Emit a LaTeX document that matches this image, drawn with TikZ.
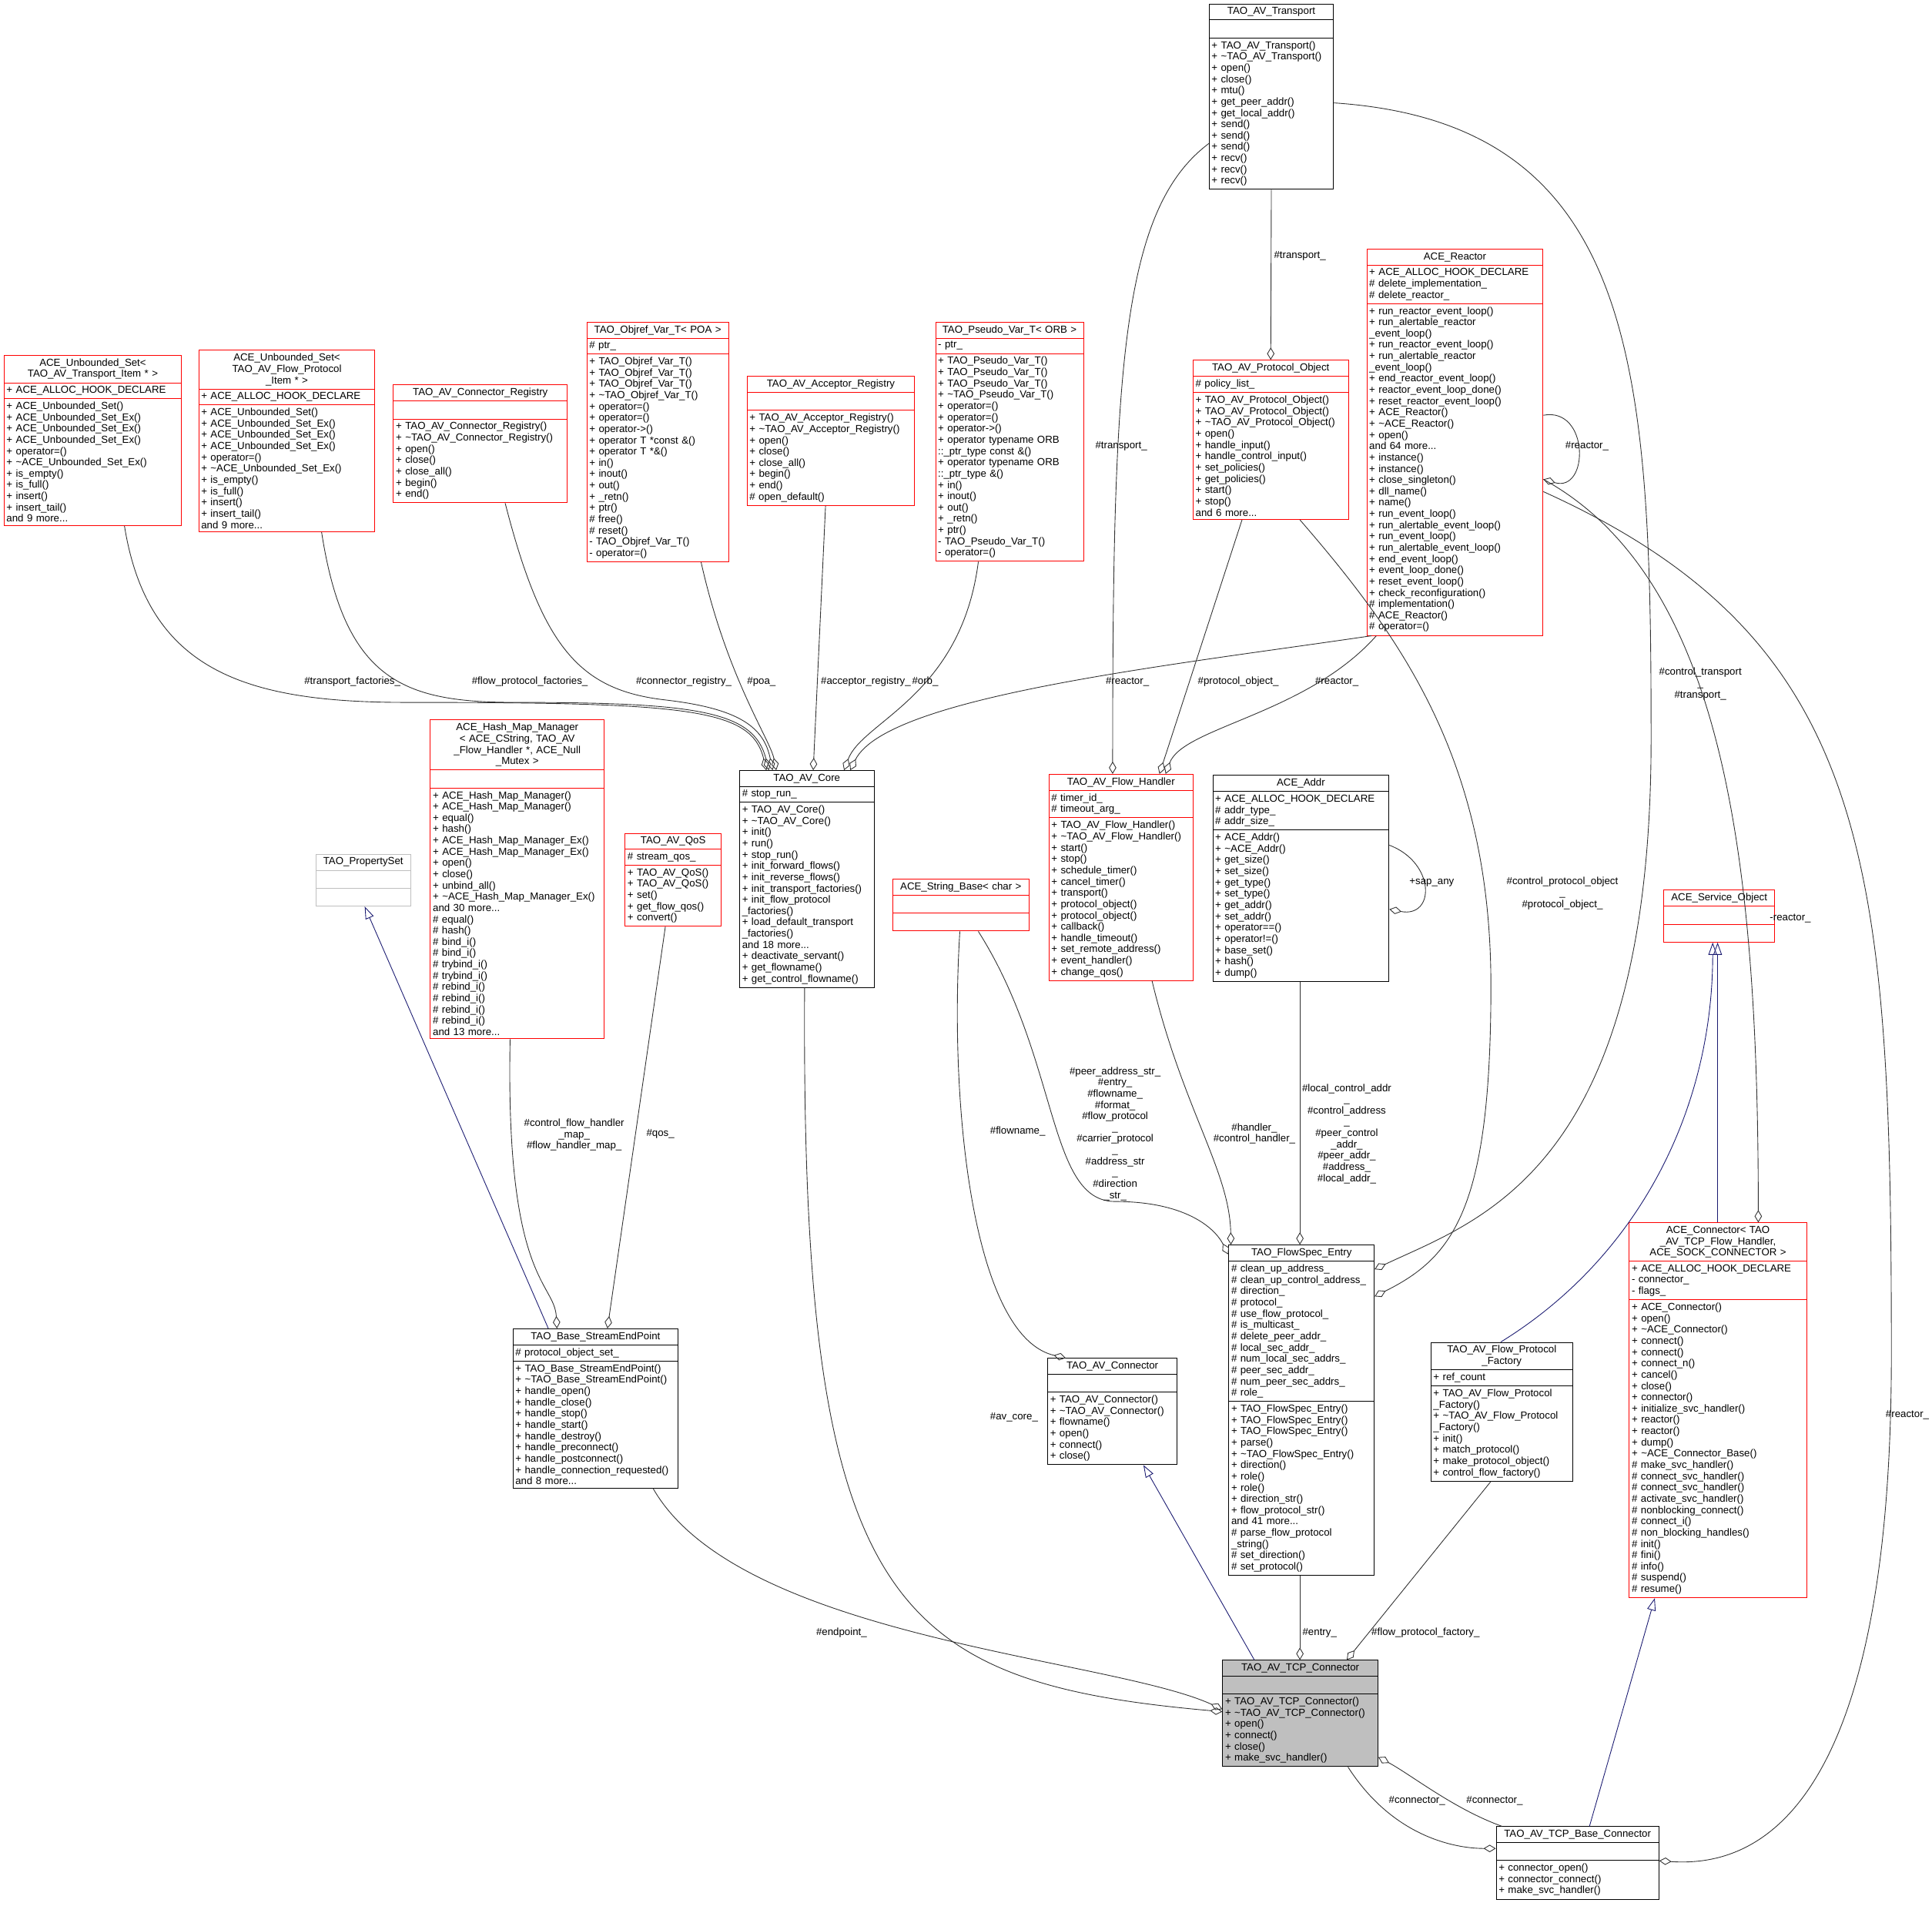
\documentclass[tikz,border=0pt]{standalone}
\usepackage{fontspec}
\setmainfont{Liberation Sans}
\usepackage{tikz}
\usetikzlibrary{arrows.meta,shapes.multipart}

\definecolor{agggray}{HTML}{303030}
\definecolor{inhblue}{HTML}{191970}
\definecolor{boxred}{HTML}{FF0000}
\definecolor{boxgray}{HTML}{BFBFBF}

% class box: name, position, text width, style, title, attributes, methods
\newcommand{\umlclass}[7]{%
\node[umlbox,#4,text width=#3] (#1) at #2 {\centering #5\par\nodepart{two}#6\nodepart{three}#7};}

\begin{document}
\begin{tikzpicture}
[x=1pt,y=-1pt,font=\fontsize{8.3}{9.15}\selectfont,
 umlbox/.style={rectangle split,rectangle split parts=3,draw=black,anchor=north west,
   align=left,inner xsep=2pt,inner ysep=2.4pt,line width=0.6pt},
 redbox/.style={draw=boxred},
 graybox/.style={draw=boxgray},
 mainbox/.style={fill=boxgray},
 agg/.style={draw=agggray,line width=0.55pt,-{Diamond[open,length=10pt,width=6pt]}},
 inh/.style={draw=inhblue,line width=0.55pt,-{Triangle[open,length=10pt,width=7pt]}},
 lbl/.style={align=center,inner sep=0pt,fill=none}]
\useasboundingbox (0,0) rectangle (1568,1552);

\umlclass{transport}{(981,3)}{97pt}{}{TAO\_AV\_Transport}{\strut}{+ TAO\_AV\_Transport()\\+ \textasciitilde TAO\_AV\_Transport()\\+ open()\\+ close()\\+ mtu()\\+ get\_peer\_addr()\\+ get\_local\_addr()\\+ send()\\+ send()\\+ send()\\+ recv()\\+ recv()\\+ recv()}
\umlclass{reactor}{(1109,202)}{139pt}{redbox}{ACE\_Reactor}{+ ACE\_ALLOC\_HOOK\_DECLARE\\\# delete\_implementation\_\\\# delete\_reactor\_}{+ run\_reactor\_event\_loop()\\+ run\_alertable\_reactor\\\_event\_loop()\\+ run\_reactor\_event\_loop()\\+ run\_alertable\_reactor\\\_event\_loop()\\+ end\_reactor\_event\_loop()\\+ reactor\_event\_loop\_done()\\+ reset\_reactor\_event\_loop()\\+ ACE\_Reactor()\\+ \textasciitilde ACE\_Reactor()\\+ open()\\and 64 more...\\+ instance()\\+ instance()\\+ close\_singleton()\\+ dll\_name()\\+ name()\\+ run\_event\_loop()\\+ run\_alertable\_event\_loop()\\+ run\_event\_loop()\\+ run\_alertable\_event\_loop()\\+ end\_event\_loop()\\+ event\_loop\_done()\\+ reset\_event\_loop()\\+ check\_reconfiguration()\\\# implementation()\\\# ACE\_Reactor()\\\# operator=()}
\umlclass{protobj}{(968,292)}{122pt}{redbox}{TAO\_AV\_Protocol\_Object}{\# policy\_list\_}{+ TAO\_AV\_Protocol\_Object()\\+ TAO\_AV\_Protocol\_Object()\\+ \textasciitilde TAO\_AV\_Protocol\_Object()\\+ open()\\+ handle\_input()\\+ handle\_control\_input()\\+ set\_policies()\\+ get\_policies()\\+ start()\\+ stop()\\and 6 more...}
\umlclass{usettrans}{(3,288)}{140pt}{redbox}{ACE\_Unbounded\_Set\textless\\TAO\_AV\_Transport\_Item * \textgreater}{+ ACE\_ALLOC\_HOOK\_DECLARE}{+ ACE\_Unbounded\_Set()\\+ ACE\_Unbounded\_Set\_Ex()\\+ ACE\_Unbounded\_Set\_Ex()\\+ ACE\_Unbounded\_Set\_Ex()\\+ operator=()\\+ \textasciitilde ACE\_Unbounded\_Set\_Ex()\\+ is\_empty()\\+ is\_full()\\+ insert()\\+ insert\_tail()\\and 9 more...}
\umlclass{usetflow}{(161,284)}{139pt}{redbox}{ACE\_Unbounded\_Set\textless\\TAO\_AV\_Flow\_Protocol\\\_Item * \textgreater}{+ ACE\_ALLOC\_HOOK\_DECLARE}{+ ACE\_Unbounded\_Set()\\+ ACE\_Unbounded\_Set\_Ex()\\+ ACE\_Unbounded\_Set\_Ex()\\+ ACE\_Unbounded\_Set\_Ex()\\+ operator=()\\+ \textasciitilde ACE\_Unbounded\_Set\_Ex()\\+ is\_empty()\\+ is\_full()\\+ insert()\\+ insert\_tail()\\and 9 more...}
\umlclass{connreg}{(319,312)}{137pt}{redbox}{TAO\_AV\_Connector\_Registry}{\strut}{+ TAO\_AV\_Connector\_Registry()\\+ \textasciitilde TAO\_AV\_Connector\_Registry()\\+ open()\\+ close()\\+ close\_all()\\+ begin()\\+ end()}
\umlclass{objref}{(476,261)}{111pt}{redbox}{TAO\_Objref\_Var\_T\textless{} POA \textgreater}{\# ptr\_}{+ TAO\_Objref\_Var\_T()\\+ TAO\_Objref\_Var\_T()\\+ TAO\_Objref\_Var\_T()\\+ \textasciitilde TAO\_Objref\_Var\_T()\\+ operator=()\\+ operator=()\\+ operator-\textgreater()\\+ operator T *const \&()\\+ operator T *\&()\\+ in()\\+ inout()\\+ out()\\+ \_retn()\\+ ptr()\\\# free()\\\# reset()\\- TAO\_Objref\_Var\_T()\\- operator=()}
\umlclass{accreg}{(606,305)}{132pt}{redbox}{TAO\_AV\_Acceptor\_Registry}{\strut}{+ TAO\_AV\_Acceptor\_Registry()\\+ \textasciitilde TAO\_AV\_Acceptor\_Registry()\\+ open()\\+ close()\\+ close\_all()\\+ begin()\\+ end()\\\# open\_default()}
\umlclass{pseudo}{(759,261)}{116pt}{redbox}{TAO\_Pseudo\_Var\_T\textless{} ORB \textgreater}{- ptr\_}{+ TAO\_Pseudo\_Var\_T()\\+ TAO\_Pseudo\_Var\_T()\\+ TAO\_Pseudo\_Var\_T()\\+ \textasciitilde TAO\_Pseudo\_Var\_T()\\+ operator=()\\+ operator=()\\+ operator-\textgreater()\\+ operator typename ORB\\::\_ptr\_type const \&()\\+ operator typename ORB\\::\_ptr\_type \&()\\+ in()\\+ inout()\\+ out()\\+ \_retn()\\+ ptr()\\- TAO\_Pseudo\_Var\_T()\\- operator=()}
\umlclass{hashmap}{(349,584)}{137pt}{redbox}{ACE\_Hash\_Map\_Manager\\\textless{} ACE\_CString, TAO\_AV\\\_Flow\_Handler *, ACE\_Null\\\_Mutex \textgreater}{\strut}{+ ACE\_Hash\_Map\_Manager()\\+ ACE\_Hash\_Map\_Manager()\\+ equal()\\+ hash()\\+ ACE\_Hash\_Map\_Manager\_Ex()\\+ ACE\_Hash\_Map\_Manager\_Ex()\\+ open()\\+ close()\\+ unbind\_all()\\+ \textasciitilde ACE\_Hash\_Map\_Manager\_Ex()\\and 30 more...\\\# equal()\\\# hash()\\\# bind\_i()\\\# bind\_i()\\\# trybind\_i()\\\# trybind\_i()\\\# rebind\_i()\\\# rebind\_i()\\\# rebind\_i()\\\# rebind\_i()\\and 13 more...}
\umlclass{propset}{(256,693)}{73pt}{graybox}{TAO\_PropertySet}{\strut}{\strut}
\umlclass{qos}{(507,676)}{74pt}{redbox}{TAO\_AV\_QoS}{\# stream\_qos\_}{+ TAO\_AV\_QoS()\\+ TAO\_AV\_QoS()\\+ set()\\+ get\_flow\_qos()\\+ convert()}
\umlclass{core}{(600,625)}{105pt}{}{TAO\_AV\_Core}{\# stop\_run\_}{+ TAO\_AV\_Core()\\+ \textasciitilde TAO\_AV\_Core()\\+ init()\\+ run()\\+ stop\_run()\\+ init\_forward\_flows()\\+ init\_reverse\_flows()\\+ init\_transport\_factories()\\+ init\_flow\_protocol\\\_factories()\\+ load\_default\_transport\\\_factories()\\and 18 more...\\+ deactivate\_servant()\\+ get\_flowname()\\+ get\_control\_flowname()}
\umlclass{strbase}{(724,713)}{107pt}{redbox}{ACE\_String\_Base\textless{} char \textgreater}{\strut}{\strut}
\umlclass{flowhandler}{(851,628)}{113pt}{redbox}{TAO\_AV\_Flow\_Handler}{\# timer\_id\_\\\# timeout\_arg\_}{+ TAO\_AV\_Flow\_Handler()\\+ \textasciitilde TAO\_AV\_Flow\_Handler()\\+ start()\\+ stop()\\+ schedule\_timer()\\+ cancel\_timer()\\+ transport()\\+ protocol\_object()\\+ protocol\_object()\\+ callback()\\+ handle\_timeout()\\+ set\_remote\_address()\\+ event\_handler()\\+ change\_qos()}
\umlclass{addr}{(984,629)}{139pt}{}{ACE\_Addr}{+ ACE\_ALLOC\_HOOK\_DECLARE\\\# addr\_type\_\\\# addr\_size\_}{+ ACE\_Addr()\\+ \textasciitilde ACE\_Addr()\\+ get\_size()\\+ set\_size()\\+ get\_type()\\+ set\_type()\\+ get\_addr()\\+ set\_addr()\\+ operator==()\\+ operator!=()\\+ base\_set()\\+ hash()\\+ dump()}
\umlclass{svcobj}{(1350,722)}{86pt}{redbox}{ACE\_Service\_Object}{\strut}{\strut}
\umlclass{aceconn}{(1322,992)}{140pt}{redbox}{ACE\_Connector\textless{} TAO\\\_AV\_TCP\_Flow\_Handler,\\ ACE\_SOCK\_CONNECTOR \textgreater}{+ ACE\_ALLOC\_HOOK\_DECLARE\\- connector\_\\- flags\_}{+ ACE\_Connector()\\+ open()\\+ \textasciitilde ACE\_Connector()\\+ connect()\\+ connect()\\+ connect\_n()\\+ cancel()\\+ close()\\+ connector()\\+ initialize\_svc\_handler()\\+ reactor()\\+ reactor()\\+ dump()\\+ \textasciitilde ACE\_Connector\_Base()\\\# make\_svc\_handler()\\\# connect\_svc\_handler()\\\# connect\_svc\_handler()\\\# activate\_svc\_handler()\\\# nonblocking\_connect()\\\# connect\_i()\\\# non\_blocking\_handles()\\\# init()\\\# fini()\\\# info()\\\# suspend()\\\# resume()}
\umlclass{flowspec}{(997,1010)}{114pt}{}{TAO\_FlowSpec\_Entry}{\# clean\_up\_address\_\\\# clean\_up\_control\_address\_\\\# direction\_\\\# protocol\_\\\# use\_flow\_protocol\_\\\# is\_multicast\_\\\# delete\_peer\_addr\_\\\# local\_sec\_addr\_\\\# num\_local\_sec\_addrs\_\\\# peer\_sec\_addr\_\\\# num\_peer\_sec\_addrs\_\\\# role\_}{+ TAO\_FlowSpec\_Entry()\\+ TAO\_FlowSpec\_Entry()\\+ TAO\_FlowSpec\_Entry()\\+ parse()\\+ \textasciitilde TAO\_FlowSpec\_Entry()\\+ direction()\\+ role()\\+ role()\\+ direction\_str()\\+ flow\_protocol\_str()\\and 41 more...\\\# parse\_flow\_protocol\\\_string()\\\# set\_direction()\\\# set\_protocol()}
\umlclass{baseep}{(416,1078)}{130pt}{}{TAO\_Base\_StreamEndPoint}{\# protocol\_object\_set\_}{+ TAO\_Base\_StreamEndPoint()\\+ \textasciitilde TAO\_Base\_StreamEndPoint()\\+ handle\_open()\\+ handle\_close()\\+ handle\_stop()\\+ handle\_start()\\+ handle\_destroy()\\+ handle\_preconnect()\\+ handle\_postconnect()\\+ handle\_connection\_requested()\\and 8 more...}
\umlclass{avconn}{(850,1102)}{101pt}{}{TAO\_AV\_Connector}{\strut}{+ TAO\_AV\_Connector()\\+ \textasciitilde TAO\_AV\_Connector()\\+ flowname()\\+ open()\\+ connect()\\+ close()}
\umlclass{fpfactory}{(1161,1089)}{111pt}{}{TAO\_AV\_Flow\_Protocol\\\_Factory}{+ ref\_count}{+ TAO\_AV\_Flow\_Protocol\\\_Factory()\\+ \textasciitilde TAO\_AV\_Flow\_Protocol\\\_Factory()\\+ init()\\+ match\_protocol()\\+ make\_protocol\_object()\\+ control\_flow\_factory()}
\umlclass{tcpconn}{(992,1347)}{122pt}{mainbox}{TAO\_AV\_TCP\_Connector}{\strut}{+ TAO\_AV\_TCP\_Connector()\\+ \textasciitilde TAO\_AV\_TCP\_Connector()\\+ open()\\+ connect()\\+ close()\\+ make\_svc\_handler()}
\umlclass{tcpbase}{(1214,1482)}{128pt}{}{TAO\_AV\_TCP\_Base\_Connector}{\strut}{+ connector\_open()\\+ connector\_connect()\\+ make\_svc\_handler()}

% members of TAO_AV_Core
\path[agg] ([xshift=98pt]usettrans.south west) .. controls (120,545) and (200,570) .. (330,570) .. controls (560,570) and (610,575) .. ([xshift=22pt]core.north west)
  node[lbl] at (286,553) {\#transport\_factories\_};
\path[agg] ([xshift=100pt]usetflow.south west) .. controls (280,555) and (330,570) .. (420,570) .. controls (570,570) and (612,578) .. ([xshift=24pt]core.north west)
  node[lbl] at (430,553) {\#flow\_protocol\_factories\_};
\path[agg] ([xshift=91pt]connreg.south west) .. controls (440,525) and (470,560) .. (540,568) .. controls (600,575) and (620,590) .. ([xshift=27pt]core.north west)
  node[lbl] at (555,553) {\#connector\_registry\_};
\path[agg] ([xshift=93pt]objref.south west) .. controls (590,550) and (625,600) .. ([xshift=30pt]core.north west)
  node[lbl] at (618,553) {\#poa\_};
\path[agg] ([xshift=64pt]accreg.south west) -- ([xshift=60pt]core.north west)
  node[lbl,anchor=west] at (666,553) {\#acceptor\_registry\_};
\path[agg] ([xshift=35pt]pseudo.south west) .. controls (780,565) and (700,585) .. ([xshift=85pt]core.north west)
  node[lbl,anchor=west] at (740,553) {\#orb\_};
\path[agg] ([xshift=4pt]reactor.south west) .. controls (950,540) and (720,565) .. ([xshift=90pt]core.north west)
  node[lbl] at (915,553) {\#reactor\_};

% members of TAO_AV_Flow_Handler
\path[agg] ([yshift=-38pt]transport.west) .. controls (910,170) and (903,300) .. ([xshift=52pt]flowhandler.north west)
  node[lbl] at (910,362) {\#transport\_};
\path[agg] ([xshift=40pt]protobj.south west) -- ([xshift=90pt]flowhandler.north west)
  node[lbl] at (1005,553) {\#protocol\_object\_};
\path[agg] ([xshift=8pt]reactor.south west) .. controls (1060,580) and (960,590) .. ([xshift=95pt]flowhandler.north west)
  node[lbl] at (1085,553) {\#reactor\_};
\path[agg] ([yshift=22pt]reactor.east) .. controls (1290,330) and (1290,400) .. ([yshift=-30pt]reactor.east)
  node[lbl] at (1288,362) {\#reactor\_};
\path[agg] (transport.south) -- (protobj.north)
  node[lbl] at (1055,208) {\#transport\_};

% members of TAO_FlowSpec_Entry
\path[agg] ([yshift=-5pt]transport.east) .. controls (1330,100) and (1340,300) .. (1340,600) .. controls (1340,950) and (1200,990) .. ([yshift=-20pt]flowspec.north east)
  node[lbl] at (1380,555) {\#control\_transport\\\_\\\#transport\_};
\path[agg] ([xshift=87pt]protobj.south west) .. controls (1140,520) and (1210,620) .. (1210,800) .. controls (1210,980) and (1180,1020) .. ([yshift=-42pt]flowspec.north east)
  node[lbl] at (1268,725) {\#control\_protocol\_object\\\_\\\#protocol\_object\_};
\path[agg] ([yshift=27pt]addr.east) .. controls (1165,700) and (1165,745) .. ([yshift=-25pt]addr.east)
  node[lbl] at (1162,716) {+sap\_any};
\path[agg] ([xshift=71pt]addr.south west) -- ([xshift=58pt]flowspec.north west)
  node[lbl] at (1093,920) {\#local\_control\_addr\\\_\\\#control\_address\\\_\\\#peer\_control\\\_addr\_\\\#peer\_addr\_\\\#address\_\\\#local\_addr\_};
\path[agg] ([xshift=84pt]flowhandler.south west) .. controls (960,900) and (998,950) .. ([xshift=2pt]flowspec.north west)
  node[lbl] at (1018,920) {\#handler\_\\\#control\_handler\_};
\path[agg] ([xshift=70pt]strbase.south west) .. controls (860,860) and (850,975) .. (905,975) .. controls (960,975) and (985,995) .. ([yshift=-8pt]flowspec.north west)
  node[lbl] at (905,920) {\#peer\_address\_str\_\\\#entry\_\\\#flowname\_\\\#format\_\\\#flow\_protocol\\\_\\\#carrier\_protocol\\\_\\\#address\_str\\\_\\\#direction\\\_str\_};

% other members
\path[agg] ([xshift=55pt]strbase.south west) .. controls (770,900) and (790,1085) .. ([xshift=15pt]avconn.north west)
  node[lbl] at (826,918) {\#flowname\_};
\path[agg] ([xshift=65pt]hashmap.south west) .. controls (410,1040) and (450,1040) .. ([xshift=36pt]baseep.north west)
  node[lbl] at (466,921) {\#control\_flow\_handler\\\_map\_\\\#flow\_handler\_map\_};
\path[agg] ([xshift=33pt]qos.south west) -- ([xshift=77pt]baseep.north west)
  node[lbl] at (536,920) {\#qos\_};
\path[inh] ([xshift=29pt]baseep.north west) -- ([xshift=40pt]propset.south west);

% members of TAO_AV_TCP_Connector
\path[agg] ([xshift=114pt]baseep.south west) .. controls (600,1330) and (900,1345) .. ([yshift=-40pt]tcpconn.north west)
  node[lbl] at (683,1325) {\#endpoint\_};
\path[agg] ([xshift=53pt]core.south west) .. controls (650,1300) and (720,1365) .. ([yshift=-42pt]tcpconn.north west)
  node[lbl] at (823,1150) {\#av\_core\_};
\path[inh] ([xshift=26pt]tcpconn.north west) -- ([xshift=78pt]avconn.south west);
\path[agg] ([xshift=58pt]flowspec.south west) -- ([xshift=63pt]tcpconn.north west)
  node[lbl] at (1071,1325) {\#entry\_};
\path[agg] ([xshift=49pt]fpfactory.south west) -- ([xshift=101pt]tcpconn.north west)
  node[lbl] at (1157,1325) {\#flow\_protocol\_factory\_};
\path[agg] ([xshift=5pt]tcpbase.north west) .. controls (1180,1468) and (1145,1440) .. ([yshift=8pt]tcpconn.south east)
  node[lbl] at (1213,1461) {\#connector\_};

% ACE_Connector and its users
\path[inh] ([xshift=72pt]aceconn.north west) -- ([xshift=44pt]svcobj.south west);
\path[inh] ([xshift=57pt]fpfactory.north west) .. controls (1330,1020) and (1390,900) .. ([xshift=40pt]svcobj.south west);
\path[agg] ([yshift=-30pt]reactor.east) .. controls (1400,470) and (1427,700) .. ([xshift=105pt]aceconn.north west)
  node[lbl] at (1453,745) {-reactor\_};
\path[inh] ([xshift=76pt]tcpbase.north west) -- ([xshift=21pt]aceconn.south west);
\path[agg] ([xshift=102pt]tcpconn.south west) .. controls (1130,1490) and (1180,1500) .. ([yshift=-18pt]tcpbase.north west)
  node[lbl] at (1150,1461) {\#connector\_};
\path[agg] ([yshift=-40pt]reactor.east) .. controls (1520,520) and (1535,700) .. (1535,1100) .. controls (1535,1480) and (1420,1515) .. ([yshift=-28pt]tcpbase.north east)
  node[lbl] at (1548,1148) {\#reactor\_};
\end{tikzpicture}
\end{document}
